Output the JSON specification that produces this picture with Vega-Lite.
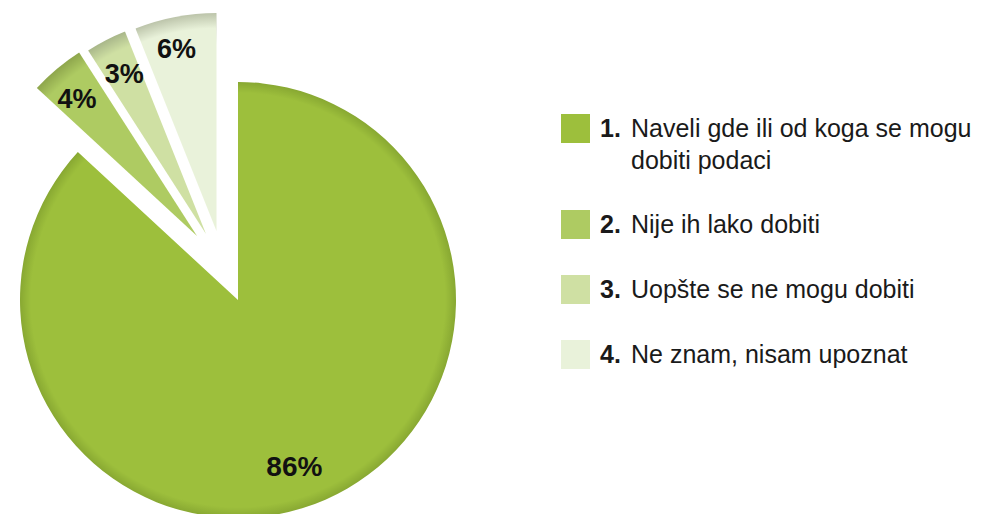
{
  "$schema": "https://vega.github.io/schema/vega-lite/v6.json",
  "width": 476,
  "height": 514,
  "padding": 0,
  "autosize": {"type": "pad"},
  "background": "white",
  "config": {"view": {"stroke": null}, "font": "Liberation Sans", "style": {"guide-label": {"lineHeight": 32}}},
  "data": {
    "values": [
      {"num": "1.", "cat": "Naveli gde ili od koga se mogu dobiti podaci", "value": 86, "pct": "86%"},
      {"num": "2.", "cat": "Nije ih lako dobiti", "value": 4, "pct": "4%"},
      {"num": "3.", "cat": "Uopšte se ne mogu dobiti", "value": 3, "pct": "3%"},
      {"num": "4.", "cat": "Ne znam, nisam upoznat", "value": 6, "pct": "6%"}
    ]
  },
  "transform": [
    {"stack": "value", "groupby": [], "sort": [{"field": "num", "order": "ascending"}], "as": ["v0", "v1"]}
  ],
  "layer": [
    {
      "layer": [
        {"mark": {"type": "arc", "radius": 0},
         "encoding": {
           "theta": {"field": "v0", "type": "quantitative", "stack": null}, "theta2": {"field": "v1"},
           "color": {
             "field": "num",
             "type": "nominal",
             "scale": {"domain": ["1.", "2.", "3.", "4."], "range": ["#9dbf3c", "#aecb62", "#cfe0a3", "#e9f2da"]},
             "legend": {
               "orient": "none", "legendX": 561, "legendY": 114, "title": null,
               "symbolType": "square", "symbolSize": 841, "symbolStrokeWidth": 0, "symbolOpacity": 1,
               "labelFont": "Liberation Sans", "labelFontSize": 25, "labelFontWeight": "bold", "labelColor": "#1a1a1a",
               "labelOffset": 10, "rowPadding": 36, "padding": 0, "labelLimit": 0,
               "labelExpr": "datum.value == '1.' ? ['1.', ' '] : datum.value"
             }
           }
         }},
        {"transform": [{"filter": "datum.num == '1.'"}],
         "mark": {"type": "arc", "radius": 218, "yOffset": 43,
           "fill": {"gradient": "radial", "x1": 0.5, "y1": 0.5, "r1": 0, "x2": 0.5, "y2": 0.5, "r2": 0.5,
             "stops": [{"offset": 0, "color": "#9dbf3c"}, {"offset": 0.95, "color": "#9dbf3c"}, {"offset": 1, "color": "#88a832"}]}},
         "encoding": {"theta": {"field": "v0", "type": "quantitative", "stack": null}, "theta2": {"field": "v1"}}},
        {"transform": [{"filter": "datum.num == '2.'"}],
         "mark": {"type": "arc", "radius": 218, "xOffset": -41, "yOffset": -21,
           "fill": {"gradient": "radial", "x1": 0.937, "y1": 1, "r1": 0, "x2": 0.937, "y2": 1, "r2": 1.189,
             "stops": [{"offset": 0, "color": "#aecb62"}, {"offset": 0.93, "color": "#aecb62"}, {"offset": 1, "color": "#8ea64c"}]}},
         "encoding": {"theta": {"field": "v0", "type": "quantitative", "stack": null}, "theta2": {"field": "v1"}}},
        {"transform": [{"filter": "datum.num == '3.'"}],
         "mark": {"type": "arc", "radius": 218, "xOffset": -32, "yOffset": -23,
           "fill": {"gradient": "radial", "x1": 0.791, "y1": 1, "r1": 0, "x2": 0.791, "y2": 1, "r2": 1.077,
             "stops": [{"offset": 0, "color": "#cfe0a3"}, {"offset": 0.93, "color": "#cfe0a3"}, {"offset": 1, "color": "#a9b78a"}]}},
         "encoding": {"theta": {"field": "v0", "type": "quantitative", "stack": null}, "theta2": {"field": "v1"}}},
        {"transform": [{"filter": "datum.num == '4.'"}],
         "mark": {"type": "arc", "radius": 218, "xOffset": -21.5, "yOffset": -26,
           "fill": {"gradient": "radial", "x1": 0.686, "y1": 1, "r1": 0, "x2": 0.686, "y2": 1, "r2": 1,
             "stops": [{"offset": 0, "color": "#e9f2da"}, {"offset": 0.93, "color": "#e9f2da"}, {"offset": 1, "color": "#bcc4aa"}]}},
         "encoding": {"theta": {"field": "v0", "type": "quantitative", "stack": null}, "theta2": {"field": "v1"}}},
        {"mark": {"type": "text", "radius": 183, "fontSize": 28, "fontWeight": "bold", "xOffset": -17, "yOffset": 43},
         "encoding": {"theta": {"field": "value", "type": "quantitative", "stack": true}, "order": {"field": "num"}, "detail": {"field": "num"},
           "color": {"value": "#111111"},
           "text": {"condition": {"test": "datum.num == '1.'", "field": "pct", "type": "nominal"}, "value": ""}}},
        {"mark": {"type": "text", "radius": 185, "fontSize": 27, "fontWeight": "bold", "xOffset": -42, "yOffset": -15},
         "encoding": {"theta": {"field": "value", "type": "quantitative", "stack": true}, "order": {"field": "num"}, "detail": {"field": "num"},
           "color": {"value": "#111111"},
           "text": {"condition": {"test": "datum.num == '2.'", "field": "pct", "type": "nominal"}, "value": ""}}},
        {"mark": {"type": "text", "radius": 183, "fontSize": 27, "fontWeight": "bold", "xOffset": -30, "yOffset": -19},
         "encoding": {"theta": {"field": "value", "type": "quantitative", "stack": true}, "order": {"field": "num"}, "detail": {"field": "num"},
           "color": {"value": "#111111"},
           "text": {"condition": {"test": "datum.num == '3.'", "field": "pct", "type": "nominal"}, "value": ""}}},
        {"mark": {"type": "text", "radius": 185, "fontSize": 27, "fontWeight": "bold", "xOffset": -26.5, "yOffset": -25},
         "encoding": {"theta": {"field": "value", "type": "quantitative", "stack": true}, "order": {"field": "num"}, "detail": {"field": "num"},
           "color": {"value": "#111111"},
           "text": {"condition": {"test": "datum.num == '4.'", "field": "pct", "type": "nominal"}, "value": ""}}}
      ]
    },
    {
      "mark": {"type": "arc", "opacity": 0, "radius": 1},
      "encoding": {
        "theta": {"field": "v0", "type": "quantitative", "stack": null},
        "theta2": {"field": "v1"},
        "color": {
          "field": "cat",
          "type": "nominal",
          "scale": {"domain": ["Naveli gde ili od koga se mogu dobiti podaci", "Nije ih lako dobiti", "Uopšte se ne mogu dobiti", "Ne znam, nisam upoznat"], "range": ["#9dbf3c", "#aecb62", "#cfe0a3", "#e9f2da"]},
          "legend": {
            "orient": "none", "legendX": 561, "legendY": 114, "title": null,
            "symbolType": "square", "symbolSize": 841, "symbolStrokeWidth": 0, "symbolOpacity": 0,
            "labelFont": "Liberation Sans", "labelFontSize": 25, "labelFontWeight": "normal", "labelColor": "#1a1a1a",
            "labelOffset": 41, "rowPadding": 36, "padding": 0, "labelLimit": 0,
            "labelExpr": "datum.value == 'Naveli gde ili od koga se mogu dobiti podaci' ? ['Naveli gde ili od koga se mogu', 'dobiti podaci'] : datum.value"
          }
        }
      }
    }
  ],
  "resolve": {"scale": {"color": "independent"}}
}
